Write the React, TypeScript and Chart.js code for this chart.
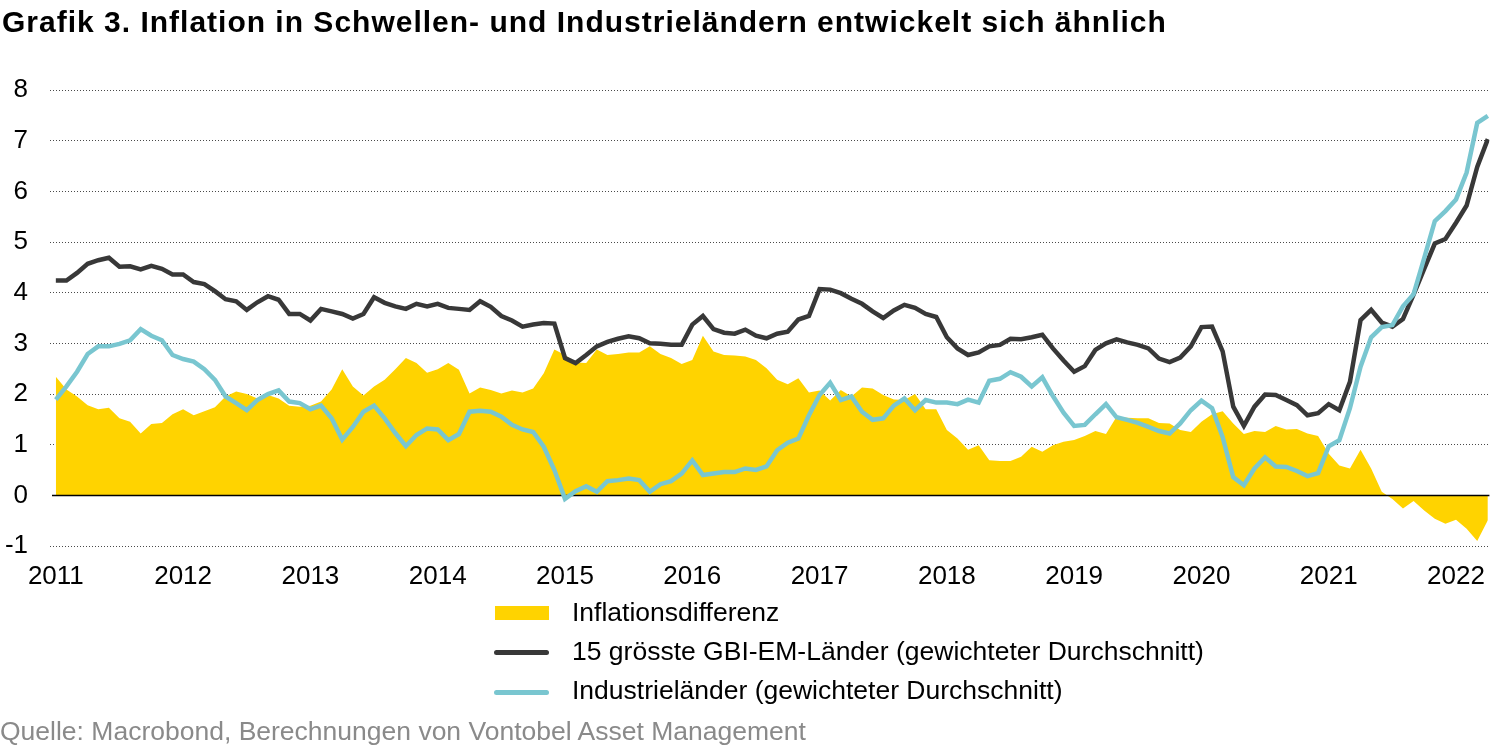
import React, { useEffect, useRef } from 'react';
import { Chart, registerables } from 'chart.js';

Chart.register(...registerables);

// Year tick labels (one every 12 months, first month = Jan 2011)
const years = ['2011', '2012', '2013', '2014', '2015', '2016', '2017', '2018', '2019', '2020', '2021', '2022'];

// 15 grösste GBI-EM-Länder (gewichteter Durchschnitt), monthly Jan 2011 – Apr 2022
const emInflation = [
  4.24, 4.24, 4.39, 4.57, 4.64, 4.69, 4.51, 4.52, 4.46, 4.53, 4.47, 4.36,
  4.36, 4.21, 4.17, 4.03, 3.87, 3.83, 3.66, 3.81, 3.93, 3.86, 3.58, 3.58,
  3.45, 3.68, 3.63, 3.58, 3.49, 3.58, 3.91, 3.80, 3.73, 3.68, 3.78, 3.73,
  3.78, 3.70, 3.68, 3.66, 3.83, 3.72, 3.54, 3.45, 3.33, 3.37, 3.40, 3.39,
  2.71, 2.61, 2.77, 2.94, 3.03, 3.09, 3.14, 3.10, 3.00, 2.99, 2.97, 2.97,
  3.37, 3.54, 3.28, 3.21, 3.19, 3.27, 3.15, 3.10, 3.19, 3.23, 3.47, 3.54,
  4.07, 4.06, 3.99, 3.88, 3.78, 3.63, 3.50, 3.65, 3.76, 3.70, 3.58, 3.52,
  3.12, 2.90, 2.77, 2.82, 2.94, 2.97, 3.09, 3.08, 3.12, 3.17, 2.90, 2.66,
  2.44, 2.55, 2.87, 3.00, 3.08, 3.02, 2.97, 2.90, 2.70, 2.63, 2.72, 2.94,
  3.32, 3.33, 2.84, 1.75, 1.37, 1.75, 1.99, 1.98, 1.88, 1.78, 1.58, 1.62,
  1.80, 1.68, 2.24, 3.46, 3.66, 3.41, 3.33, 3.48, 3.96, 4.47, 4.97, 5.06,
  5.38, 5.72, 6.48, 7.03,
];

// Industrieländer (gewichteter Durchschnitt)
const dmInflation = [
  1.89, 2.15, 2.44, 2.79, 2.94, 2.94, 2.99, 3.06, 3.28, 3.15, 3.06, 2.77,
  2.69, 2.64, 2.49, 2.28, 1.95, 1.82, 1.68, 1.88, 2.00, 2.07, 1.85, 1.82,
  1.70, 1.77, 1.52, 1.10, 1.35, 1.65, 1.77, 1.52, 1.23, 0.97, 1.19, 1.32,
  1.30, 1.09, 1.21, 1.65, 1.67, 1.65, 1.55, 1.39, 1.30, 1.25, 0.96, 0.50,
  -0.07, 0.08, 0.18, 0.07, 0.28, 0.30, 0.33, 0.30, 0.07, 0.22, 0.28, 0.43,
  0.69, 0.40, 0.43, 0.46, 0.46, 0.53, 0.50, 0.57, 0.89, 1.04, 1.12, 1.58,
  1.98, 2.22, 1.88, 1.95, 1.65, 1.49, 1.52, 1.77, 1.91, 1.68, 1.88, 1.83,
  1.83, 1.80, 1.89, 1.83, 2.26, 2.30, 2.43, 2.34, 2.15, 2.33, 1.96, 1.63,
  1.37, 1.39, 1.60, 1.80, 1.54, 1.49, 1.43, 1.35, 1.27, 1.22, 1.42, 1.68,
  1.87, 1.72, 1.15, 0.36, 0.20, 0.53, 0.75, 0.57, 0.56, 0.48, 0.38, 0.44,
  0.97, 1.09, 1.72, 2.54, 3.12, 3.32, 3.36, 3.73, 3.97, 4.68, 5.41, 5.61,
  5.84, 6.37, 7.35, 7.49,
];

// Inflationsdifferenz
const inflationGap = [
  2.34, 2.09, 1.95, 1.78, 1.70, 1.73, 1.52, 1.45, 1.22, 1.41, 1.43, 1.60,
  1.70, 1.58, 1.66, 1.74, 1.95, 2.05, 2.00, 1.91, 1.98, 1.91, 1.77, 1.75,
  1.77, 1.85, 2.09, 2.49, 2.15, 1.97, 2.15, 2.28, 2.49, 2.71, 2.61, 2.42,
  2.49, 2.61, 2.48, 2.01, 2.13, 2.08, 2.01, 2.07, 2.03, 2.11, 2.41, 2.88,
  2.77, 2.62, 2.61, 2.88, 2.77, 2.79, 2.82, 2.82, 2.94, 2.79, 2.71, 2.59,
  2.67, 3.15, 2.84, 2.77, 2.76, 2.74, 2.67, 2.51, 2.28, 2.19, 2.31, 2.03,
  2.07, 1.87, 2.08, 1.95, 2.13, 2.11, 1.98, 1.89, 1.88, 2.00, 1.70, 1.70,
  1.29, 1.12, 0.90, 0.99, 0.69, 0.68, 0.68, 0.76, 0.96, 0.86, 0.99, 1.06,
  1.09, 1.17, 1.27, 1.21, 1.55, 1.53, 1.52, 1.52, 1.43, 1.42, 1.29, 1.25,
  1.45, 1.60, 1.66, 1.42, 1.21, 1.27, 1.25, 1.37, 1.30, 1.31, 1.22, 1.17,
  0.82, 0.59, 0.53, 0.90, 0.53, 0.07, -0.07, -0.26, -0.11, -0.30, -0.46, -0.56,
  -0.48, -0.66, -0.90, -0.49,
];

const yMin = -1;
const yMax = 8;

const seriesLabels = [
  'Inflationsdifferenz',
  '15 grösste GBI-EM-Länder (gewichteter Durchschnitt)',
  'Industrieländer (gewichteter Durchschnitt)',
];

const titleText = 'Grafik 3. Inflation in Schwellen- und Industrieländern entwickelt sich ähnlich';
const sourceText = 'Quelle: Macrobond, Berechnungen von Vontobel Asset Management';

const FONT = '"Liberation Sans", Arial, Helvetica, sans-serif';
const YELLOW = '#FFD300';
const DARK = '#383838';
const CYAN = '#79C6D0';

const toPoints = (arr: number[]) => arr.map((v, i) => ({ x: i, y: v }));

const zeroLinePlugin = {
  id: 'zeroLine',
  afterDatasetDraw(chart: any, args: any) {
    if (args.index !== 2) return;
    const y = Math.round(chart.scales.y.getPixelForValue(0)) + 0.5;
    const { ctx, chartArea } = chart;
    ctx.save();
    ctx.strokeStyle = '#000';
    ctx.lineWidth = 1.6;
    ctx.beginPath();
    ctx.moveTo(chartArea.left + 2, y);
    ctx.lineTo(chartArea.right, y);
    ctx.stroke();
    ctx.restore();
  },
};

export default function App() {
  const canvasRef = useRef<HTMLCanvasElement>(null);

  useEffect(() => {
    const canvas = canvasRef.current;
    if (!canvas) return;
    const chart = new Chart(canvas, {
      type: 'line',
      data: {
        datasets: [
          {
            label: seriesLabels[2],
            data: toPoints(dmInflation),
            borderColor: CYAN,
            borderWidth: 4.5,
            pointRadius: 0,
            fill: false,
            tension: 0,
            order: 0,
          },
          {
            label: seriesLabels[1],
            data: toPoints(emInflation),
            borderColor: DARK,
            borderWidth: 4.5,
            pointRadius: 0,
            fill: false,
            tension: 0,
            order: 1,
          },
          {
            label: seriesLabels[0],
            data: toPoints(inflationGap),
            borderWidth: 0,
            borderColor: YELLOW,
            backgroundColor: YELLOW,
            pointRadius: 0,
            fill: 'origin',
            tension: 0,
            order: 2,
          },
        ],
      },
      options: {
        animation: false,
        responsive: false,
        devicePixelRatio: 1,
        layout: { padding: { top: 90, right: 3, left: 0, bottom: 0 } },
        plugins: {
          legend: { display: false },
          tooltip: { enabled: false },
          title: { display: false },
        },
        scales: {
          x: {
            type: 'linear',
            min: -0.55,
            max: 135.15,
            afterBuildTicks: (scale: any) => {
              scale.ticks = years.map((_, k) => ({ value: k * 12 }));
            },
            afterFit: (scale: any) => {
              scale.height = 204;
            },
            ticks: {
              autoSkip: false,
              maxRotation: 0,
              padding: 15,
              color: '#000',
              font: { family: FONT, size: 26 },
              callback: (v: any) => years[Math.round(Number(v) / 12)] ?? '',
            },
            grid: { display: false, drawTicks: false },
            border: { display: false },
          },
          y: {
            min: yMin,
            max: yMax,
            afterFit: (scale: any) => {
              scale.width = 50;
            },
            ticks: {
              stepSize: 1,
              padding: 22,
              color: '#000',
              font: { family: FONT, size: 26 },
            },
            grid: {
              drawTicks: false,
              lineWidth: 1,
              color: (ctx: any) => (ctx.tick && ctx.tick.value === 0 ? 'rgba(0,0,0,0)' : '#4a4a4a'),
            },
            border: { display: false, dash: [1, 2] },
          },
        },
      },
      plugins: [zeroLinePlugin],
    } as any);
    return () => chart.destroy();
  }, []);

  const legendText: React.CSSProperties = {
    position: 'absolute',
    left: 572,
    fontFamily: FONT,
    fontSize: 26.5,
    lineHeight: '30px',
    color: '#000',
    whiteSpace: 'nowrap',
  };

  return (
    <div style={{ position: 'absolute', left: 0, top: 0, width: 1500, height: 750, background: '#fff', overflow: 'hidden' }}>
      <canvas ref={canvasRef} width={1500} height={750} style={{ position: 'absolute', left: 0, top: 0, width: 1500, height: 750 }} />
      <div
        style={{
          position: 'absolute',
          left: 2,
          top: 7,
          fontFamily: FONT,
          fontWeight: 'bold',
          fontSize: 30,
          letterSpacing: '1px',
          lineHeight: '30px',
          color: '#000',
          whiteSpace: 'nowrap',
        }}
      >
        {titleText}
      </div>

      <div style={{ position: 'absolute', left: 495, top: 606, width: 54, height: 14, background: YELLOW }} />
      <div style={{ ...legendText, top: 597 }}>{seriesLabels[0]}</div>

      <div style={{ position: 'absolute', left: 494, top: 650, width: 55, height: 5, borderRadius: 3, background: DARK }} />
      <div style={{ ...legendText, top: 636 }}>{seriesLabels[1]}</div>

      <div style={{ position: 'absolute', left: 494, top: 690, width: 55, height: 5, borderRadius: 3, background: CYAN }} />
      <div style={{ ...legendText, top: 675 }}>{seriesLabels[2]}</div>

      <div
        style={{
          position: 'absolute',
          left: 0,
          top: 716,
          fontFamily: FONT,
          fontSize: 26.5,
          lineHeight: '30px',
          color: '#8a8a8a',
          whiteSpace: 'nowrap',
        }}
      >
        {sourceText}
      </div>
    </div>
  );
}
